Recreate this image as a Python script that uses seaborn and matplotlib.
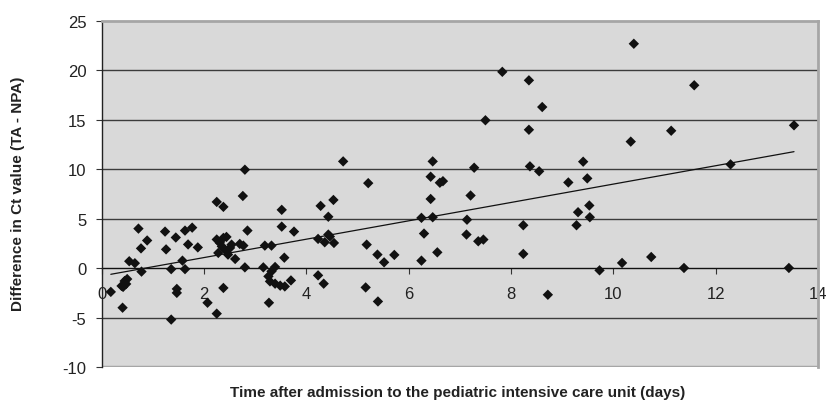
import numpy as np
import pandas as pd
import matplotlib
matplotlib.use("Agg")
import matplotlib.pyplot as plt
import seaborn as sns

# Days after PICU admission and Ct difference (TA - NPA) per paired sample
days = [
    0.18, 0.41, 0.39, 0.45, 0.50, 0.42, 0.48, 0.54, 0.65, 0.72, 0.77, 0.89, 0.78,
    1.24, 1.26, 1.36, 1.36, 1.45, 1.47, 1.47, 1.58, 1.63, 1.63, 1.77, 1.69, 1.88,
    2.07, 2.25, 2.25, 2.80, 2.38, 2.76, 2.85,
    2.25, 2.31, 2.38, 2.44, 2.28, 2.41, 2.51, 2.54, 2.61, 2.47, 2.35,
    2.70, 2.77, 2.80, 3.16, 3.19, 3.32, 3.52, 3.52, 3.76, 3.57,
    3.39, 3.32, 3.26, 3.29, 3.39, 3.49, 3.58, 3.70, 2.38, 3.27,
    4.23, 4.34, 4.28, 4.53, 4.43, 4.23, 4.36, 4.43, 4.46, 4.54,
    4.72, 5.21, 5.18, 5.39, 5.52, 5.72, 5.16, 5.40,
    6.47, 6.43, 6.61, 6.67, 6.43, 6.25, 6.47, 6.30, 6.25, 6.56,
    7.83, 8.35, 8.61, 7.50, 8.35, 7.28, 8.37, 8.55, 9.12, 7.21, 7.14, 7.13,
    7.36, 7.46, 8.24, 8.24, 8.72, 9.31, 9.28,
    10.40, 11.58, 11.13, 10.34, 9.41, 9.49, 9.53, 9.54, 9.73, 10.17, 10.74, 11.38,
    12.29, 13.53, 13.43,
]
ct_diff = [
    -2.4, -4.0, -1.8, -1.3, -1.1, -1.9, -1.6, 0.7, 0.5, 4.0, 2.0, 2.8, -0.35,
    3.7, 1.9, -5.2, -0.1, 3.1, -2.1, -2.5, 0.76, -0.1, 3.8, 4.1, 2.4, 2.1,
    -3.5, 6.7, -4.6, 9.96, 6.2, 7.3, 3.8,
    2.9, 2.56, 3.06, 3.16, 1.54, 1.88, 2.05, 2.38, 0.93, 1.37, 2.2,
    2.45, 2.28, 0.08, 0.08, 2.28, 2.28, 5.9, 4.2, 3.7, 1.06,
    0.12, -0.32, -0.83, -1.34, -1.57, -1.77, -1.85, -1.24, -2.0, -3.5,
    -0.73, -1.57, 6.3, 6.9, 5.2, 2.96, 2.62, 3.4, 3.2, 2.55,
    10.8, 8.6, 2.38, 1.37, 0.59, 1.34, -1.95, -3.37,
    10.8, 9.25, 8.64, 8.8, 7.0, 5.09, 5.15, 3.5, 0.76, 1.6,
    19.86, 19.0, 16.3, 14.96, 14.0, 10.16, 10.3, 9.8, 8.67, 7.35, 4.9, 3.4,
    2.72, 2.89, 4.34, 1.44, -2.69, 5.66, 4.34,
    22.7, 18.5, 13.9, 12.8, 10.77, 9.08, 6.34, 5.15, -0.22, 0.53, 1.13, 0.02,
    10.5, 14.45, 0.02,
]

x_ticks = [0, 2, 4, 6, 8, 10, 12, 14]
y_ticks = [-10, -5, 0, 5, 10, 15, 20, 25]
x_title = "Time after admission to the pediatric intensive care unit (days)"
y_title = "Difference in Ct value (TA - NPA)"

df = pd.DataFrame({"days": days, "ct_diff": ct_diff})

sns.set_style("white")
plt.rcParams["font.family"] = ["Liberation Sans", "DejaVu Sans"]
plt.rcParams["axes.unicode_minus"] = False

fig = plt.figure(figsize=(8.28, 4.10), dpi=100)
ax = fig.add_axes([0.1227, 0.1024, 0.8653, 0.8439])
ax.set_facecolor("#d9d9d9")

# horizontal gridlines
for yv in y_ticks[1:-1]:
    if yv != 0:
        ax.axhline(yv, color="#3c3c3c", lw=1.0, zorder=1)

sns.scatterplot(data=df, x="days", y="ct_diff", marker="D", s=28,
                color="#111111", edgecolor="none", ax=ax, zorder=3)
sns.regplot(data=df, x="days", y="ct_diff", scatter=False, ci=None,
            line_kws={"color": "#111111", "lw": 0.9, "zorder": 4}, ax=ax)

ax.set_xlim(0, 14)
ax.set_ylim(-10, 25)
ax.set_xticks(x_ticks)
ax.set_yticks(y_ticks)

# x axis crossing at zero
ax.spines["bottom"].set_position(("data", 0))
ax.spines["bottom"].set_color("#111111")
ax.spines["bottom"].set_linewidth(1.0)
ax.spines["bottom"].set_zorder(2)
ax.spines["left"].set_color("#222222")
ax.spines["left"].set_linewidth(1.0)
for side in ["top", "right"]:
    ax.spines[side].set_color("#a6a6a6")
    ax.spines[side].set_linewidth(2.0)
# lower frame edge
ax.axhline(-10, color="#a6a6a6", lw=2.5, zorder=2)

ax.tick_params(axis="x", direction="out", length=4, width=0.8, color="#333333",
               labelsize=12, pad=9, bottom=True, labelcolor="#222222")
ax.tick_params(axis="y", direction="out", length=4, width=0.8, color="#333333",
               labelsize=12, pad=7, left=True, labelcolor="#222222")
ax.set_xlabel("")
ax.set_ylabel("")

fig.text(0.553, 0.042, x_title, ha="center", va="center",
         fontsize=11, fontweight="bold", color="#222222")
fig.text(0.022, 0.527, y_title, ha="center", va="center", rotation=90,
         fontsize=11, fontweight="bold", color="#222222")

fig.savefig("out.png", dpi=100, facecolor="white")
